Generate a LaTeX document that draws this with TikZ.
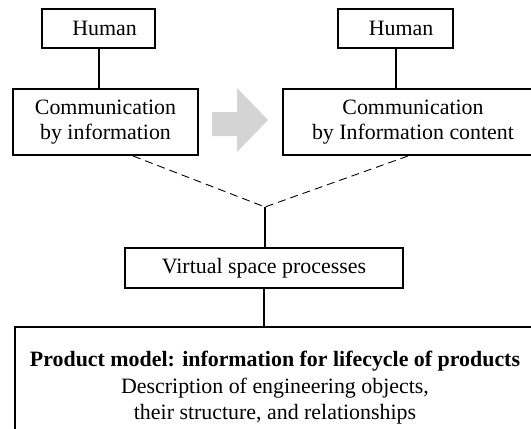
\documentclass[tikz,border=0pt]{standalone}
\usepackage{fontspec}
\setmainfont{Liberation Serif}
\usetikzlibrary{calc}
\definecolor{arrowgray}{gray}{0.83}
\tikzset{
  box/.style={draw, line width=2pt, rectangle, inner sep=0pt, align=center,
    font=\fontsize{21.9}{25}\selectfont},
  link/.style={line width=2pt},
  dashlink/.style={line width=0.9pt, dash pattern=on 8pt off 5pt},
  plain/.style={inner sep=0pt, align=center, font=\fontsize{21.9}{26.5}\selectfont}
}
\begin{document}
\begin{tikzpicture}[x=1pt,y=-1pt]
  \useasboundingbox (0,0) rectangle (531,429);
  \begin{scope}
    \clip (0,0) rectangle (531,429);
    % top row: humans and their communication boxes
    \node[box, minimum width=113pt, minimum height=39pt] (h1) at (98.5,28.5) {\hspace*{12pt}Human};
    \node[box, minimum width=185pt, minimum height=66pt] (c1) at (105.5,122) {Communication\\by information};
    \node[box, minimum width=115pt, minimum height=39pt] (h2) at (395.5,28.5) {\hspace*{11pt}Human};
    \node[box, minimum width=260pt, minimum height=66pt] (c2) at (413,122) {Communication\\by Information content};
    % transition arrow
    \fill[arrowgray] (212,112) -- (237,112) -- (237,88) -- (268,120) -- (237,152) -- (237,136) -- (212,136) -- cycle;
    % middle: virtual space
    \node[box, minimum width=278pt, minimum height=40pt] (v) at (264,268) {Virtual space processes};
    % bottom: product model frame
    \node[draw, line width=2pt, rectangle, minimum width=522pt, minimum height=160pt, anchor=north west] (p) at (14,326) {};
    \node[plain, anchor=north] (pt) at (275,351) {\textbf{Product model: information for lifecycle of products}\\Description of engineering objects,\\their structure, and relationships};
    % connectors
    \coordinate (j) at (265,207);
    \draw[link] (h1.south) -- (h1.south |- c1.north);
    \draw[link] (h2.south) -- (h2.south |- c2.north);
    \draw[dashlink] ([xshift=27.5pt]c1.south) -- (j);
    \draw[dashlink] ([xshift=-5pt]c2.south) -- (j);
    \draw[link] (j) -- (j |- v.north);
    \draw[link] (v.south) -- (v.south |- p.north);
  \end{scope}
\end{tikzpicture}
\end{document}
